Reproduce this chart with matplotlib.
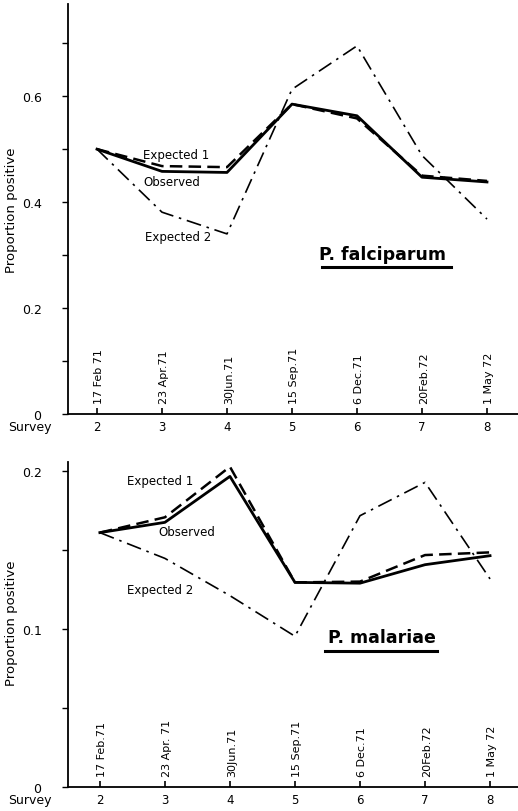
# two-panel survey chart: proportion positive, observed vs expected
import matplotlib
matplotlib.use("Agg")
import matplotlib.pyplot as plt
from matplotlib.lines import Line2D

surveys = [2, 3, 4, 5, 6, 7, 8]

# P. falciparum
falc_obs = [0.500, 0.458, 0.456, 0.585, 0.563, 0.447, 0.438]
falc_exp1 = [0.500, 0.468, 0.466, 0.585, 0.558, 0.450, 0.440]
falc_exp2 = [0.500, 0.381, 0.340, 0.613, 0.695, 0.488, 0.368]
falc_dates = ["17 Feb 71", "23 Apr.71", "30Jun.71", "15 Sep.71", "6 Dec.71", "20Feb.72", "1 May 72"]

# P. malariae
mal_obs = [0.161, 0.1675, 0.1966, 0.1295, 0.129, 0.1407, 0.1464]
mal_exp1 = [0.161, 0.1707, 0.2027, 0.1295, 0.130, 0.1468, 0.1485]
mal_exp2 = [0.161, 0.1447, 0.1211, 0.0954, 0.1717, 0.1928, 0.1317]
mal_dates = ["17 Feb.71", "23 Apr. 71", "30Jun.71", "15 Sep.71", "6 Dec.71", "20Feb.72", "1 May 72"]

plt.rcParams["font.family"] = "DejaVu Sans"

fig = plt.figure(figsize=(5.18, 8.12), dpi=100)
ax1 = fig.add_axes([68 / 518, 1 - 415 / 812, 450 / 518, 410 / 812])
ax2 = fig.add_axes([68 / 518, 1 - 788 / 812, 450 / 518, 325 / 812])

dashdot = (0, (9, 3.5, 1.5, 3.5))


def style_axes(ax, xlim, ylim, major, minor, labels, dates):
    ax.set_xlim(*xlim)
    ax.set_ylim(*ylim)
    for s in ["top", "right"]:
        ax.spines[s].set_visible(False)
    ax.spines["left"].set_linewidth(1.3)
    ax.spines["bottom"].set_linewidth(1.3)
    ax.set_xticks(surveys)
    ax.set_xticklabels([str(s) for s in surveys], fontsize=8.5)
    ax.tick_params(axis="x", direction="in", length=4, width=1.2, pad=4)
    ax.set_yticks(major)
    ax.set_yticklabels(labels, fontsize=9)
    ax.set_yticks(minor, minor=True)
    ax.tick_params(axis="y", which="both", direction="out", length=4, width=1.0, pad=15)
    for x, d in zip(surveys, dates):
        ax.annotate(d, xy=(x, 0), xycoords="data", xytext=(2, 11), textcoords="offset pixels",
                    rotation=90, ha="center", va="bottom", fontsize=8)
    ax.annotate("Survey", xy=(0, 0), xycoords="axes fraction", xytext=(-38, -13),
                textcoords="offset pixels", ha="center", va="center", fontsize=9)


# top panel
ax1.plot(surveys, falc_obs, color="black", lw=2.0)
ax1.plot(surveys, falc_exp1, color="black", lw=1.8, linestyle=(0, (5, 2.5)))
ax1.plot(surveys, falc_exp2, color="black", lw=1.2, linestyle=dashdot)
style_axes(ax1, (1.554, 8.477), (0, 0.774), [0, 0.2, 0.4, 0.6], [0.1, 0.3, 0.5, 0.7],
           ["0", "0.2", "0.4", "0.6"], falc_dates)
ax1.text(2.71, 0.49, "Expected 1", fontsize=8.5, va="center", ha="left")
ax1.text(2.71, 0.438, "Observed", fontsize=8.5, va="center", ha="left")
ax1.text(2.74, 0.336, "Expected 2", fontsize=8.5, va="center", ha="left")
ax1.text(6.40, 0.302, "P. falciparum", fontsize=12.5, fontweight="bold", ha="center", va="center")
ax1.add_line(Line2D([5.46, 7.45], [0.277, 0.277], color="black", lw=2.2))

# bottom panel
ax2.plot(surveys, mal_obs, color="black", lw=2.0)
ax2.plot(surveys, mal_exp1, color="black", lw=1.8, linestyle=(0, (5, 2.5)))
ax2.plot(surveys, mal_exp2, color="black", lw=1.2, linestyle=dashdot)
style_axes(ax2, (1.51, 8.43), (0, 0.2057), [0, 0.1, 0.2], [0.05, 0.15],
           ["0", "0.1", "0.2"], mal_dates)
ax2.text(2.42, 0.1937, "Expected 1", fontsize=8.5, va="center", ha="left")
ax2.text(2.895, 0.162, "Observed", fontsize=8.5, va="center", ha="left")
ax2.text(2.42, 0.1247, "Expected 2", fontsize=8.5, va="center", ha="left")
ax2.text(6.33, 0.0949, "P. malariae", fontsize=12.5, fontweight="bold", ha="center", va="center")
ax2.add_line(Line2D([5.46, 7.19], [0.086, 0.086], color="black", lw=2.2))

fig.text(12 / 518, 1 - 210 / 812, "Proportion positive", rotation=90, ha="center", va="center", fontsize=9.5)
fig.text(12 / 518, 1 - 623 / 812, "Proportion positive", rotation=90, ha="center", va="center", fontsize=9.5)

fig.savefig("out.png", dpi=100)
